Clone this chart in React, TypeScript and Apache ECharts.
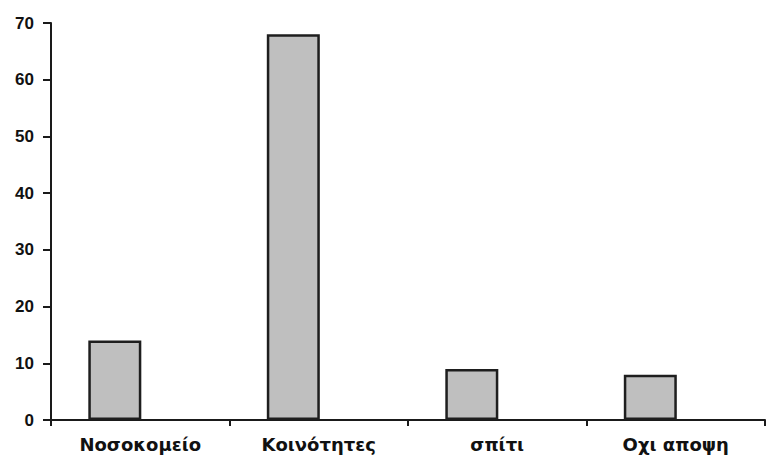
import React, { useEffect, useRef } from "react";
import * as echarts from "echarts";

const categories = ["Νοσοκομείο", "Κοινότητες", "σπίτι", "Οχι αποψη"];
const values = [14, 68, 9, 8];
const yMin = 0;
const yMax = 70;
const yStep = 10;

export default function App() {
  const ref = useRef<HTMLDivElement>(null);
  useEffect(() => {
    if (!ref.current) return;
    const chart = echarts.init(ref.current, null, { renderer: "svg" });
    chart.setOption({
      animation: false,
      backgroundColor: "#ffffff",
      grid: { left: 51, right: 1, top: 23, bottom: 41, containLabel: false },
      xAxis: {
        type: "category",
        data: categories,
        boundaryGap: true,
        axisLine: { show: true, lineStyle: { color: "#1a1a1a", width: 2 } },
        axisTick: { show: true, inside: false, length: 6, lineStyle: { color: "#1a1a1a", width: 2 } },
        axisLabel: {
          margin: 15,
          color: "#111",
          fontFamily: "DejaVu Sans",
          fontWeight: "bold",
          fontSize: 18,
        },
        splitLine: { show: false },
      },
      yAxis: {
        type: "value",
        min: yMin,
        max: yMax,
        interval: yStep,
        axisLine: { show: true, lineStyle: { color: "#1a1a1a", width: 2 } },
        axisTick: { show: true, inside: false, length: 8, lineStyle: { color: "#1a1a1a", width: 2 } },
        axisLabel: {
          margin: 17,
          color: "#111",
          fontFamily: "Liberation Sans",
          fontWeight: "bold",
          fontSize: 17,
        },
        splitLine: { show: false },
      },
      series: [
        {
          type: "bar",
          data: values,
          barWidth: 53,
          barGap: "-4%",
          itemStyle: {
            color: "#bfbfbf",
            borderColor: "#1e1e1e",
            borderWidth: 2.5,
          },
        },
        {
          type: "bar",
          data: values.map(() => 0),
          barWidth: 53,
          itemStyle: { color: "rgba(0,0,0,0)" },
          silent: true,
        },
      ],
    });
    return () => chart.dispose();
  }, []);
  return (
    <div
      ref={ref}
      style={{ position: "absolute", left: 0, top: 0, width: 766, height: 461 }}
    />
  );
}
